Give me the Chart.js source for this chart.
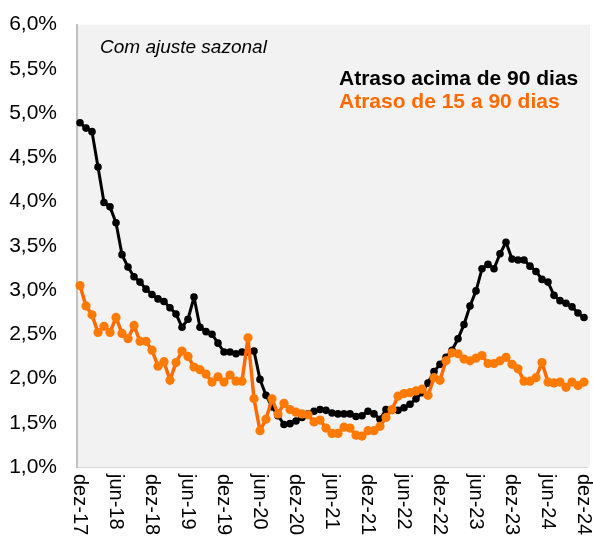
<!DOCTYPE html>
<html>
<head>
<meta charset="utf-8">
<script src="https://cdn.jsdelivr.net/npm/chart.js@4"></script>
<style>
  html, body { margin: 0; padding: 0; background: #fff; }
  #wrap { width: 593px; height: 548px; position: relative; }
</style>
</head>
<body>
<div id="wrap"><canvas id="chart"></canvas></div>
<script>
// === data ===
const months = ['jan','fev','mar','abr','mai','jun','jul','ago','set','out','nov','dez'];
const labels = [];
for (let i = 0; i < 85; i++) {
  const m = (11 + i) % 12;
  const y = 17 + Math.floor((11 + i) / 12);
  labels.push(months[m] + '-' + y);
}

const atraso90 = [
  4.89, 4.83, 4.79, 4.39, 3.99, 3.94, 3.76, 3.40, 3.26, 3.15, 3.09, 3.01,
  2.95, 2.90, 2.87, 2.80, 2.73, 2.58, 2.67, 2.92, 2.58, 2.53, 2.50, 2.40,
  2.30, 2.30, 2.28, 2.30, 2.30, 2.31, 1.99, 1.81, 1.68, 1.58, 1.48, 1.49,
  1.52, 1.56, 1.60, 1.63, 1.65, 1.64, 1.61, 1.60, 1.60, 1.60, 1.57, 1.58,
  1.63, 1.60, 1.54, 1.65, 1.64, 1.64, 1.67, 1.71, 1.77, 1.84, 1.95, 2.08,
  2.16, 2.24, 2.32, 2.45, 2.61, 2.82, 2.99, 3.24, 3.29, 3.24, 3.41, 3.54,
  3.35, 3.34, 3.34, 3.27, 3.21, 3.12, 3.09, 2.94, 2.88, 2.85, 2.81, 2.74,
  2.69
];

const atraso15a90 = [
  3.05, 2.82, 2.72, 2.52, 2.59, 2.52, 2.69, 2.51, 2.45, 2.60, 2.42, 2.42,
  2.32, 2.14, 2.19, 1.98, 2.18, 2.31, 2.25, 2.13, 2.10, 2.05, 1.96, 2.02,
  1.96, 2.04, 1.97, 1.97, 2.46, 1.77, 1.41, 1.54, 1.77, 1.60, 1.72, 1.65,
  1.62, 1.60, 1.59, 1.51, 1.53, 1.44, 1.38, 1.38, 1.45, 1.44, 1.36, 1.35,
  1.41, 1.41, 1.46, 1.56, 1.65, 1.80, 1.83, 1.84, 1.86, 1.88, 1.81, 2.01,
  1.98, 2.20, 2.29, 2.28, 2.22, 2.20, 2.23, 2.26, 2.17, 2.17, 2.20, 2.24,
  2.16, 2.11, 1.97, 1.97, 2.01, 2.18, 1.96, 1.95, 1.96, 1.90, 1.96, 1.92,
  1.96
];

const BLACK  = '#000000';
const ORANGE = '#ff6a00';
const FONT   = '"Liberation Sans", Arial, sans-serif';

// fundo cinza da área do gráfico
const plotBg = {
  id: 'plotBg',
  beforeDraw(chart) {
    const { ctx, chartArea: a } = chart;
    ctx.save();
    ctx.fillStyle = '#f2f2f2';
    ctx.fillRect(a.left, a.top, a.right - a.left + 3, a.bottom - a.top);
    ctx.restore();
  }
};

// rótulos do eixo x girados 90° (leitura de cima para baixo) + textos
const extras = {
  id: 'extras',
  afterDraw(chart) {
    const { ctx, chartArea: a } = chart;
    const xs = chart.scales.x;
    ctx.save();
    ctx.fillStyle = '#000';
    ctx.font = '20px ' + FONT;
    ctx.textAlign = 'left';
    ctx.textBaseline = 'middle';
    labels.forEach((lb, i) => {
      if (i % 6 !== 0) return;
      const x = xs.getPixelForValue(i);
      ctx.save();
      ctx.translate(x, a.bottom + 7);
      ctx.rotate(Math.PI / 2);
      ctx.fillText(lb, 0, 0);
      ctx.restore();
    });

    ctx.font = 'italic 19px ' + FONT;
    ctx.fillText('Com ajuste sazonal', 100, 48);

    ctx.font = 'bold 21px ' + FONT;
    ctx.fillStyle = BLACK;
    ctx.fillText('Atraso acima de 90 dias', 339, 79);
    ctx.fillStyle = ORANGE;
    ctx.fillText('Atraso de 15 a 90 dias', 339, 102);
    ctx.restore();
  }
};

new Chart(document.getElementById('chart'), {
  type: 'line',
  data: {
    labels: labels,
    datasets: [
      {
        label: 'Atraso acima de 90 dias',
        data: atraso90,
        borderColor: BLACK,
        backgroundColor: BLACK,
        borderWidth: 3,
        borderJoinStyle: 'round',
        pointRadius: 3.8,
        pointBorderWidth: 0,
        tension: 0,
        order: 2
      },
      {
        label: 'Atraso de 15 a 90 dias',
        data: atraso15a90,
        borderColor: ORANGE,
        backgroundColor: '#ff7a00',
        borderWidth: 3.5,
        borderJoinStyle: 'round',
        pointRadius: 4.6,
        pointBorderWidth: 0,
        tension: 0,
        order: 1
      }
    ]
  },
  options: {
    responsive: true,
    maintainAspectRatio: false,
    animation: false,
    layout: { padding: { top: 12, right: 6, left: 0, bottom: 0 } },
    plugins: {
      legend: { display: false },
      tooltip: { enabled: false }
    },
    scales: {
      x: {
        type: 'category',
        offset: true,
        grid: { display: false },
        border: { display: true, color: '#d9d9d9', width: 1 },
        ticks: { display: false },
        afterFit(s) { s.height = 81; }
      },
      y: {
        min: 1.0,
        max: 6.0,
        grid: { display: false },
        border: { display: true, color: '#c0c0c0', width: 2 },
        ticks: {
          stepSize: 0.5,
          padding: 12,
          color: '#000',
          font: { family: FONT, size: 21 },
          callback: v => v.toFixed(1).replace('.', ',') + '%'
        },
        afterFit(s) { s.width = 77; }
      }
    }
  },
  plugins: [plotBg, extras]
});
</script>
</body>
</html>
